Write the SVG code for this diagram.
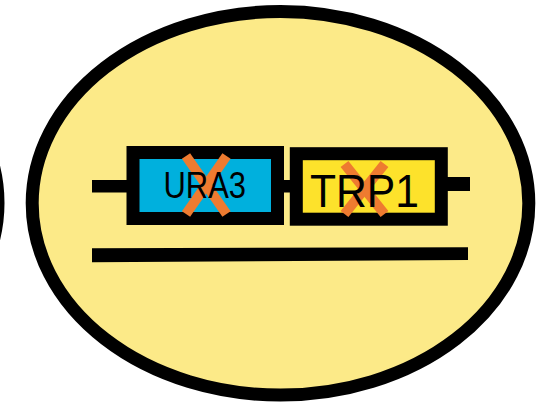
<svg xmlns="http://www.w3.org/2000/svg" width="540" height="403" viewBox="0 0 540 403">
<style>
.cell{stroke:#000;stroke-width:13}
.gene{stroke:#000;stroke-width:13}
.x{stroke:#EE7B30;stroke-width:10;stroke-linecap:butt}
.lbl{font-family:"Liberation Sans",Arial,sans-serif;fill:#000}
</style>
<rect width="540" height="403" fill="#fff"/>
<g id="neighbor-cell">
<ellipse cx="-250" cy="203" rx="248" ry="192" fill="#FCEA88" class="cell"/>
</g>
<g id="cell">
<ellipse cx="280.5" cy="203.3" rx="248.3" ry="191.8" fill="#FCEA88" class="cell"/>
</g>
<g id="connectors">
<rect x="92" y="180" width="42" height="12.5" fill="#000"/>
<rect x="283" y="180" width="8" height="12.5" fill="#000"/>
<rect x="446" y="177" width="24" height="14" fill="#000"/>
<polygon points="92,248.3 468,247.3 468,260 92,262.3" fill="#000"/>
</g>
<g id="ura3">
<rect x="133" y="152.5" width="144.5" height="66" fill="#00B0DD" class="gene"/>
<line x1="186" y1="156" x2="226.5" y2="214" class="x"/>
<line x1="226.5" y1="156" x2="186" y2="214" class="x"/>
<text class="lbl" x="163.5" y="198.3" font-size="36" textLength="82.5" lengthAdjust="spacingAndGlyphs">URA3</text>
</g>
<g id="trp1">
<rect x="296.3" y="153.7" width="145" height="65.5" fill="#FDE22B" class="gene"/>
<line x1="344.5" y1="164" x2="384.5" y2="214" class="x"/>
<line x1="384.5" y1="164" x2="344.5" y2="214" class="x"/>
<text class="lbl" x="310" y="206.7" font-size="46.5" textLength="109" lengthAdjust="spacingAndGlyphs">TRP1</text>
</g>
</svg>
